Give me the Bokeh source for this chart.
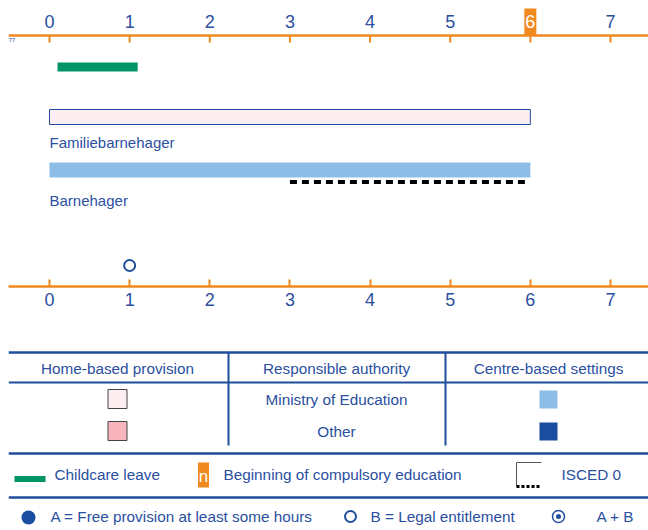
from bokeh.plotting import figure
from bokeh.models import Range1d, FixedTicker
from bokeh.layouts import column
from bokeh.embed import file_html
from bokeh.resources import INLINE
from bokeh.core.properties import value

# ---------------- data ----------------
ages = [0, 1, 2, 3, 4, 5, 6, 7]
age_labels = ["0", "1", "2", "3", "4", "5", "6", "7"]
compulsory_age = 6
leave_start = [0.1]
leave_end = [1.1]
settings = ["Familiebarnehager", "Barnehager"]
setting_start = [0, 0]
setting_end = [6, 6]
isced_start = [3]
isced_end = [5.95]
entitlement_age = [1]

table_headers = ["Home-based provision", "Responsible authority", "Centre-based settings"]
authorities = ["Ministry of Education", "Other"]
legend_texts = ["Childcare leave", "Beginning of compulsory education", "ISCED 0"]
legend_dots = ["A = Free provision at least some hours", "B = Legal entitlement", "A + B"]

# ---------------- style ----------------
FONT = "Liberation Sans"
TXT = "#2b4f9f"
LINE = "#1f4e9c"
ORANGE = "#f0891f"
GREEN = "#009466"
PINK_L = "#fdeef2"
PINK = "#f8b5be"
BLUE_L = "#8dbde6"
BLUE_D = "#1a4d9f"
TS = "15.3px"

W = 648
px_per_year = 80.14
x0 = (8 - 49) / px_per_year
x1 = (648 - 49) / px_per_year

# ---------------- chart ----------------
chart = figure(width=W, height=340, output_backend="svg", toolbar_location=None,
               x_range=Range1d(x0, x1), y_range=Range1d(286, 0),
               x_axis_location="below", y_axis_location=None,
               min_border_left=8, min_border_right=0, min_border_top=0, min_border_bottom=54)
chart.grid.visible = False
chart.outline_line_color = None

ax = chart.below[0]
ax.ticker = FixedTicker(ticks=ages)
ax.axis_line_color = ORANGE
ax.axis_line_width = 2.5
ax.major_tick_line_color = ORANGE
ax.major_tick_line_width = 2
ax.major_tick_in = 7
ax.major_tick_out = 0
ax.minor_tick_line_color = None
ax.major_label_text_color = TXT
ax.major_label_text_font = FONT
ax.major_label_text_font_size = "18px"
ax.major_label_standoff = 6

# top age scale
chart.segment(x0=[x0], y0=[35], x1=[x1], y1=[35], line_color=ORANGE, line_width=2.5)
chart.segment(x0=ages, y0=[35] * len(ages), x1=ages, y1=[42] * len(ages),
              line_color=ORANGE, line_width=2)
chart.rect(x=[compulsory_age], y=[21.5], width=12 / px_per_year, height=27,
           fill_color=ORANGE, line_color=None)
chart.text(x=ages, y=[21] * len(ages), text=age_labels, text_font=value(FONT),
           text_font_size="18px",
           text_color=["white" if a == compulsory_age else TXT for a in ages],
           text_align="center", text_baseline="middle")
chart.text(x=[x0], y=[39], text=["77"], text_font=value(FONT), text_font_size="6px",
           text_color=TXT, text_baseline="middle")

chart.hbar(y=[66.5], left=leave_start, right=leave_end, height=9,
           fill_color=GREEN, line_color=None)
chart.hbar(y=[116.5], left=setting_start[:1], right=setting_end[:1], height=15,
           fill_color=PINK_L, line_color=LINE, line_width=1)
chart.hbar(y=[169.5], left=setting_start[1:], right=setting_end[1:], height=15,
           fill_color=BLUE_L, line_color=None)
chart.segment(x0=isced_start, y0=[181.5], x1=isced_end, y1=[181.5],
              line_color="black", line_width=4, line_dash="7 5")
chart.text(x=setting_start, y=[142, 200], text=settings, text_font=value(FONT),
           text_font_size="15px", text_color=TXT, text_baseline="middle")
chart.scatter(x=entitlement_age, y=[265], marker="circle", size=11,
              fill_color="white", line_color=LINE, line_width=2)

# ---------------- table / legend ----------------
tab = figure(width=W, height=190, output_backend="svg", toolbar_location=None,
             x_range=Range1d(8, 648), y_range=Range1d(530, 340),
             x_axis_location=None, y_axis_location=None,
             min_border=0, min_border_left=8)
tab.grid.visible = False
tab.outline_line_color = None

tab.segment(x0=[8, 8, 8], y0=[352, 453, 497], x1=[648, 648, 648], y1=[352, 453, 497],
            line_color=LINE, line_width=2.5)
tab.segment(x0=[8], y0=[382], x1=[648], y1=[382], line_color=LINE, line_width=2)
tab.segment(x0=[228, 445], y0=[352, 352], x1=[228, 445], y1=[445, 445],
            line_color=LINE, line_width=2)
tab.text(x=[117, 336, 548], y=[368, 368, 368], text=table_headers, text_font=value(FONT),
         text_font_size=TS, text_color=TXT, text_align="center", text_baseline="middle")
tab.text(x=[336, 336], y=[399, 431], text=authorities, text_font=value(FONT),
         text_font_size=TS, text_color=TXT, text_align="center", text_baseline="middle")
tab.rect(x=[117, 117], y=[398.5, 430.5], width=19, height=19,
         fill_color=[PINK_L, PINK], line_color="#444444", line_width=1)
tab.rect(x=[548, 548], y=[399, 431], width=18, height=18,
         fill_color=[BLUE_L, BLUE_D], line_color=None)

# legend row 1
tab.rect(x=[29.5], y=[478.5], width=31, height=6, fill_color=GREEN, line_color=None)
tab.rect(x=[203], y=[474.5], width=11, height=25, fill_color=ORANGE, line_color=None)
tab.text(x=[203], y=[476], text=["n"], text_font=value(FONT), text_font_size="17px",
         text_color="white", text_align="center", text_baseline="middle")
tab.segment(x0=[516, 516], y0=[462, 462], x1=[541, 516], y1=[462, 486],
            line_color="#555555", line_width=1)
tab.segment(x0=[516], y0=[486], x1=[541], y1=[486], line_color="black",
            line_width=3, line_dash="3 2")
tab.text(x=[54, 223, 561], y=[474, 474, 474], text=legend_texts, text_font=value(FONT),
         text_font_size=TS, text_color=TXT, text_baseline="middle")

# legend row 2
tab.scatter(x=[28], y=[517], marker="circle", size=14, fill_color=BLUE_D, line_color=None)
tab.scatter(x=[350], y=[516], marker="circle", size=11, fill_color="white",
            line_color=LINE, line_width=2)
tab.scatter(x=[558], y=[516], marker="circle", size=12, fill_color="white",
            line_color=LINE, line_width=1.5)
tab.scatter(x=[558], y=[516], marker="circle", size=5, fill_color=LINE, line_color=None)
tab.text(x=[50, 370, 596], y=[516, 516, 516], text=legend_dots, text_font=value(FONT),
         text_font_size=TS, text_color=TXT, text_baseline="middle")

layout = column(chart, tab)
open("out.html", "w").write(file_html(layout, INLINE))
